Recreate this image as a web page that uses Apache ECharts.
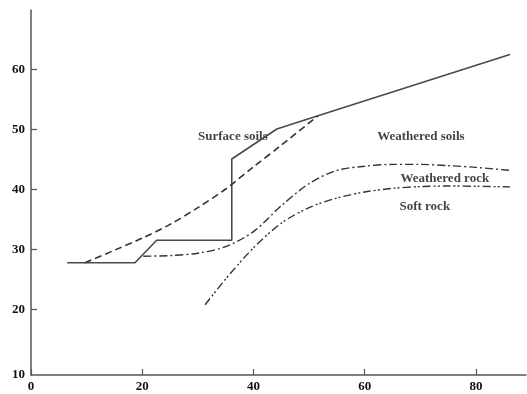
<!DOCTYPE html>
<html>
<head>
<meta charset="utf-8">
<script src="https://cdn.jsdelivr.net/npm/echarts@6/dist/echarts.min.js"></script>
<style>
  html, body { margin: 0; padding: 0; background: #fff; }
  #chart { width: 527px; height: 394px; }
</style>
</head>
<body>
<div id="chart"></div>
<script>
// Boundary profiles: [distance, elevation]
const surfaceTop = [[6.5, 27.8], [18.7, 27.8], [22.6, 31.55], [36.1, 31.55], [36.1, 45.1], [44.2, 50.1], [51.6, 52.3], [86.1, 62.5]];
const surfaceBase = [[9.7, 27.8], [15, 29.9], [20, 31.9], [25, 34.2], [30, 37.0], [35, 40.1], [40, 43.8], [45, 47.4], [51.6, 52.3]];
const weatheredSoilBase = [[20.2, 28.9], [25, 29.0], [30, 29.4], [35, 30.5], [40, 33.0], [45, 37.3], [50, 41.0], [55, 43.2], [60, 43.9], [65, 44.2], [70, 44.2], [75, 44.0], [80, 43.7], [86.1, 43.2]];
const weatheredRockBase = [[31.3, 20.8], [35, 25.1], [40, 30.3], [45, 34.4], [50, 37.0], [55, 38.6], [60, 39.6], [65, 40.2], [70, 40.5], [75, 40.6], [80, 40.55], [86.1, 40.45]];

// Zone names and where they are written
const zoneNames = ['Surface soils', 'Weathered soils', 'Weathered rock', 'Soft rock'];
const zoneAnchors = [[36.3, 48.8], [70.1, 48.8], [74.4, 41.8], [70.8, 37.2]];

// Axis extents and ticks; the elevation axis base sits a little below 10
const xTicks = { min: 0, max: 89, interval: 20 };
const yRange = { min: 9.1, max: 69.9 };
const yTickValues = [20, 30, 40, 50, 60];
const yLabelValues = [9.1, 20, 30, 40, 50, 60];
const yLabelTexts = ['10', '20', '30', '40', '50', '60'];

const serif = '"Liberation Serif", "DejaVu Serif", serif';
const axisColor = '#555';

const chart = echarts.init(document.getElementById('chart'), null, { renderer: 'canvas' });

const labelFont = { color: '#111', fontFamily: serif, fontWeight: 'bold', fontSize: 13 };

chart.setOption({
  animation: false,
  backgroundColor: '#fff',
  grid: { left: 31, right: 1, top: 10.2, bottom: 19 },
  xAxis: {
    type: 'value', min: xTicks.min, max: xTicks.max, interval: xTicks.interval,
    axisLine: { show: true, onZero: false, lineStyle: { color: axisColor, width: 1.5 } },
    axisTick: { show: true, inside: true, length: 6, lineStyle: { color: axisColor, width: 1.2 } },
    splitLine: { show: false },
    axisLabel: Object.assign({ margin: 5, showMaxLabel: false }, labelFont)
  },
  yAxis: {
    type: 'value', min: yRange.min, max: yRange.max,
    axisLine: { show: true, onZero: false, lineStyle: { color: axisColor, width: 1.5 } },
    axisTick: { show: true, inside: true, length: 6, customValues: yTickValues, lineStyle: { color: axisColor, width: 1.2 } },
    splitLine: { show: false },
    axisLabel: Object.assign({
      margin: 6,
      customValues: yLabelValues,
      formatter: function (v) {
        const i = yLabelValues.indexOf(v);
        return i >= 0 ? yLabelTexts[i] : '';
      }
    }, labelFont)
  },
  series: [
    {
      type: 'line', data: surfaceTop, symbol: 'none',
      lineStyle: { color: '#4a4a4a', width: 1.6 }
    },
    {
      type: 'line', data: surfaceBase, symbol: 'none', smooth: 0.3,
      lineStyle: { color: '#333', width: 1.6, type: [7, 4] }
    },
    {
      type: 'line', data: weatheredSoilBase, symbol: 'none', smooth: 0.3,
      lineStyle: { color: '#333', width: 1.4, type: [8, 3, 2, 3] }
    },
    {
      type: 'line', data: weatheredRockBase, symbol: 'none', smooth: 0.3,
      lineStyle: { color: '#333', width: 1.4, type: [8, 3, 2, 2, 2, 3] }
    },
    {
      type: 'scatter', symbolSize: 0, silent: true,
      data: zoneAnchors.map((p, i) => ({ value: p, name: zoneNames[i] })),
      label: Object.assign({ show: true, position: 'inside', formatter: '{b}' }, labelFont)
    }
  ]
});
</script>
</body>
</html>
